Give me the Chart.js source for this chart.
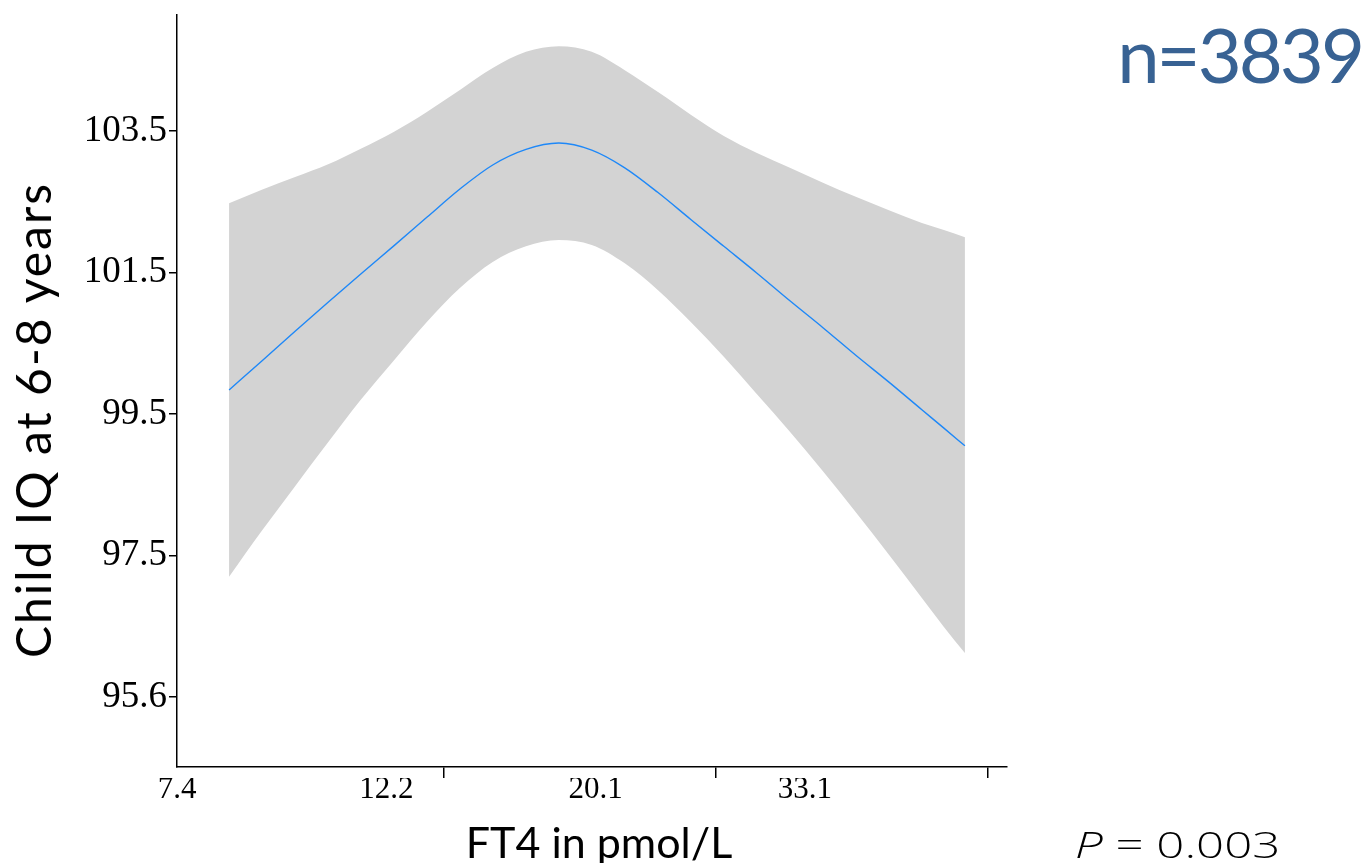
<!DOCTYPE html>
<html>
<head>
<meta charset="utf-8">
<script src="https://cdn.jsdelivr.net/npm/chart.js@4.4.1/dist/chart.umd.min.js"></script>
<style>
    html, body { margin: 0; padding: 0; background: #fff; }
    #wrap { position: relative; width: 1368px; height: 863px; overflow: hidden; }
    #chart { position: absolute; left: 0; top: 0; }
    .lbl { position: absolute; white-space: nowrap; line-height: 1; font-family: Lato, "Open Sans", sans-serif; font-weight: 400; color: #000; }
    #ytitle { left: 33px; top: 420px; font-size: 48px; letter-spacing: 2px; transform: translate(-50%, -50%) rotate(-90deg); }
    #xtitle { left: 599px; top: 841px; font-size: 43px; transform: translate(-50%, -50%); }
    #ncount { right: 6px; top: 16px; font-size: 76px; letter-spacing: -3px; color: #386293; }
    #pval { left: 1075px; top: 825px; font-size: 37px; font-weight: 300; font-family: "Open Sans", "Liberation Sans", sans-serif; transform: scaleX(1.33); transform-origin: 0 0; }
</style>
</head>
<body>
<div id="wrap">
    <canvas id="chart" width="1368" height="863"></canvas>
    <div class="lbl" id="ytitle">Child IQ at 6-8 years</div>
    <div class="lbl" id="xtitle">FT4 in pmol/L</div>
    <div class="lbl" id="ncount">n=3839</div>
    <div class="lbl" id="pval"><i>P</i> = 0.003</div>
</div>
<script>
// FT4 (pmol/L) along the fitted curve
const ft4 = [8.23, 8.74, 9.29, 9.87, 10.48, 11.14, 11.83, 12.57, 13.35, 14.19, 15.07, 16.01,
             17.01, 18.08, 19.20, 20.40, 21.68, 23.03, 24.47, 25.99, 27.62, 29.34, 30.55, 31.75];
// predicted child IQ
const iqFit = [99.84, 100.25, 100.67, 101.08, 101.48, 101.88, 102.28, 102.68, 103.02, 103.24, 103.33, 103.23,
               102.98, 102.63, 102.25, 101.87, 101.49, 101.10, 100.72, 100.33, 99.95, 99.56, 99.30, 99.05];
// 95% CI
const iqUpper = [102.48, 102.67, 102.85, 103.03, 103.25, 103.49, 103.77, 104.08, 104.39, 104.62, 104.70, 104.62,
                 104.36, 104.05, 103.73, 103.43, 103.19, 102.98, 102.77, 102.57, 102.38, 102.20, 102.10, 102.00];
const iqLower = [97.20, 97.85, 98.48, 99.10, 99.70, 100.26, 100.80, 101.28, 101.65, 101.87, 101.96, 101.89,
                 101.63, 101.25, 100.80, 100.31, 99.78, 99.25, 98.69, 98.11, 97.51, 96.90, 96.49, 96.12];

const xTickValues = [12.2, 20.1, 33.1];
const xTickLabels = ['7.4', '12.2', '20.1', '33.1'];
const yTickValues = [95.5, 97.5, 99.5, 101.5, 103.5];
const yTickLabels = ['95.6', '97.5', '99.5', '101.5', '103.5'];

function pts(arr) {
    return ft4.map((x, i) => ({x: x, y: arr[i]}));
}

const ctx = document.getElementById('chart').getContext('2d');
new Chart(ctx, {
    type: 'line',
    data: {
        datasets: [{
            label: 'IQ',
            data: pts(iqFit),
            borderColor: '#1E88F8',
            borderWidth: 1.4,
            fill: false
        }, {
            label: 'upper',
            data: pts(iqUpper),
            borderColor: 'rgba(0,0,0,0)',
            borderWidth: 0,
            backgroundColor: '#d3d3d3',
            fill: '+1'
        }, {
            label: 'lower',
            data: pts(iqLower),
            borderColor: 'rgba(0,0,0,0)',
            borderWidth: 0,
            fill: false
        }]
    },
    options: {
        responsive: false,
        devicePixelRatio: 1,
        animation: false,
        layout: { padding: { top: 15, right: 361, left: 0, bottom: 0 } },
        elements: {
            point: { radius: 0 },
            line: { cubicInterpolationMode: 'monotone' }
        },
        plugins: {
            legend: { display: false },
            tooltip: { enabled: false }
        },
        scales: {
            x: {
                type: 'logarithmic',
                position: 'bottom',
                weight: 0,
                min: 7.48,
                max: 34.3,
                afterBuildTicks: s => { s.ticks = xTickValues.map(v => ({value: v})); },
                afterFit: s => { s.height = 11; s.paddingLeft = 0; s.paddingRight = 0; },
                ticks: { display: false },
                grid: { drawOnChartArea: false, tickLength: 11, color: '#000', lineWidth: 1.5 },
                border: { color: '#000', width: 1.5 }
            },
            xLab: {
                type: 'linear',
                position: 'bottom',
                weight: 1,
                min: 0,
                max: 3.965,
                afterBuildTicks: s => { s.ticks = xTickLabels.map((t, i) => ({value: i})); },
                afterFit: s => { s.height = 85; s.paddingLeft = 0; s.paddingRight = 0; },
                grid: { display: false, drawTicks: false },
                border: { display: false },
                ticks: {
                    autoSkip: false,
                    maxRotation: 0,
                    padding: -4,
                    color: '#000',
                    font: { family: 'Liberation Serif', size: 31, lineHeight: 1 },
                    callback: (v, i) => xTickLabels[i]
                }
            },
            y: {
                type: 'linear',
                position: 'left',
                min: 94.51,
                max: 105.14,
                afterBuildTicks: s => { s.ticks = yTickValues.map(v => ({value: v})); },
                afterFit: s => { s.width = 177; s.paddingTop = 0; s.paddingBottom = 0; },
                grid: { drawOnChartArea: false, tickLength: 8, color: '#000', lineWidth: 1.5 },
                border: { color: '#000', width: 1.5 },
                ticks: {
                    padding: 2,
                    color: '#000',
                    font: { family: 'Liberation Serif', size: 37 },
                    callback: (v, i) => yTickLabels[i]
                }
            }
        }
    }
});
</script>
</body>
</html>
